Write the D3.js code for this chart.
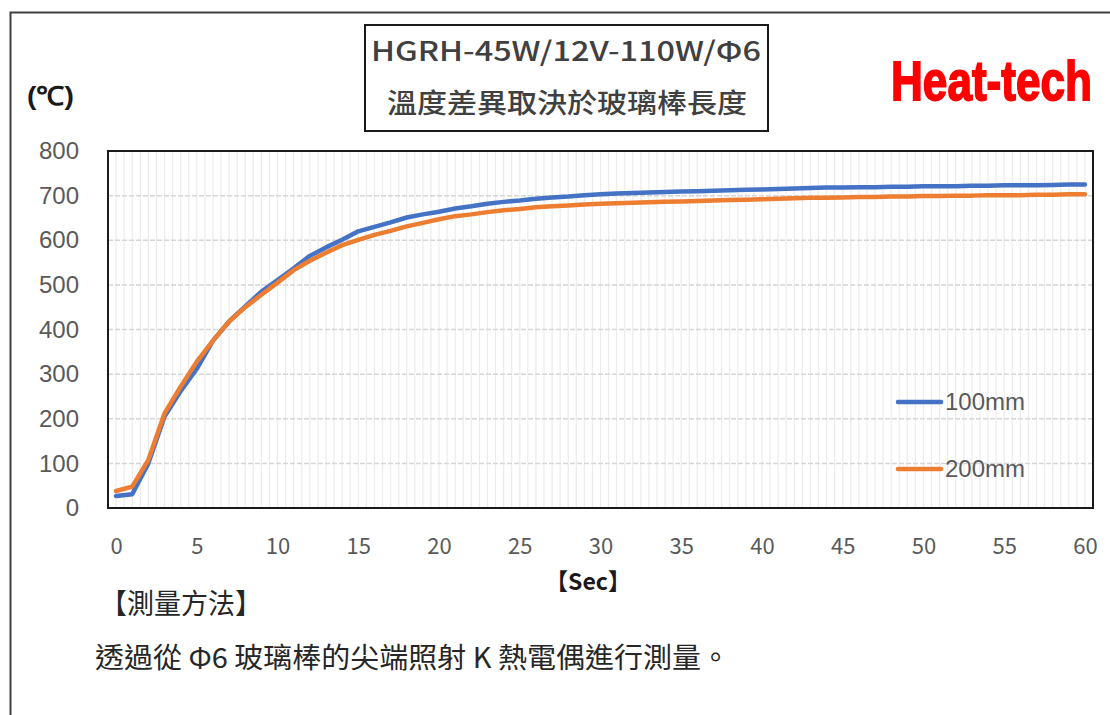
<!DOCTYPE html>
<html>
<head>
<meta charset="utf-8">
<script src="https://cdn.jsdelivr.net/npm/d3@7"></script>
<style>
  html, body { margin: 0; padding: 0; background: #fff; }
  svg { display: block; }
</style>
</head>
<body>
<svg id="chart" width="1110" height="715"></svg>
<script>
const seconds = d3.range(0, 61);
const series100 = [27, 31, 100, 205, 262, 312, 375, 418, 452, 485,
  511, 537, 565, 584, 601, 620, 630, 640, 651, 658,
  664, 671, 676, 682, 686, 689, 693, 696, 698, 701,
  703, 705, 706, 707, 708, 709, 710, 711, 712, 713,
  714, 715, 716, 717, 718, 718, 719, 719, 720, 720,
  721, 721, 721, 722, 722, 723, 723, 723, 724, 725, 725];
const series200 = [38, 48, 108, 212, 272, 328, 375, 418, 450, 478,
  505, 533, 554, 572, 589, 601, 612, 621, 631, 639,
  647, 654, 658, 663, 667, 670, 674, 676, 678, 680,
  682, 683, 684, 685, 686, 687, 688, 689, 690, 691,
  692, 693, 694, 695, 695, 696, 697, 697, 698, 698,
  699, 699, 700, 700, 701, 701, 701, 702, 702, 703, 703];
const seriesNames = ["100mm", "200mm"];
const seriesColors = ["#4472C4", "#ED7D31"];
const xTicks = [0, 5, 10, 15, 20, 25, 30, 35, 40, 45, 50, 55, 60];
const yTicks = [0, 100, 200, 300, 400, 500, 600, 700, 800];
const titleLines = ["HGRH-45W/12V-110W/Φ6", "溫度差異取決於玻璃棒長度"];
const yUnit = "(℃)";
const xUnit = "【Sec】";
const brand = "Heat-tech";
const noteHead = "【測量方法】";
const noteBody = "透過從 Φ6 玻璃棒的尖端照射 K 熱電偶進行測量。";

const svg = d3.select("#chart");
const cjk = "'Noto Sans CJK TC', 'Noto Sans', sans-serif";
const sans = "'Liberation Sans', Arial, sans-serif";

// outer frame
svg.append("rect").attr("x", 10.5).attr("y", 12.5).attr("width", 1200).attr("height", 800)
  .attr("fill", "none").attr("stroke", "#404040").attr("stroke-width", 2);

const L = 108, R = 1093, T = 151, B = 508;
const x = d3.scaleLinear().domain([-0.5, 60.5]).range([L, R]);
const y = d3.scaleLinear().domain([0, 800]).range([B, T]);

// vertical light gridlines every half second
const vGrid = d3.range(-0.5, 60.51, 0.5);
svg.append("g").selectAll("line").data(vGrid).join("line")
  .attr("x1", d => x(d)).attr("x2", d => x(d))
  .attr("y1", T).attr("y2", B)
  .attr("stroke", "#ececec").attr("stroke-width", 1.2);

// horizontal dashed gridlines
svg.append("g").selectAll("line").data(yTicks.filter(d => d > 0 && d < 800)).join("line")
  .attr("x1", L).attr("x2", R)
  .attr("y1", d => y(d)).attr("y2", d => y(d))
  .attr("stroke", "#d6d6d6").attr("stroke-width", 1.5)
  .attr("stroke-dasharray", "5,2");

// plot border
svg.append("rect").attr("x", L).attr("y", T).attr("width", R - L).attr("height", B - T)
  .attr("fill", "none").attr("stroke", "#1a1a1a").attr("stroke-width", 2);

// axes
const yAxis = svg.append("g").attr("transform", `translate(${L},0)`)
  .call(d3.axisLeft(y).tickValues(yTicks).tickSize(0).tickPadding(29));
yAxis.select(".domain").remove();
yAxis.selectAll("text").attr("font-family", sans).attr("font-size", 24).attr("fill", "#595959");

const xAxis = svg.append("g").attr("transform", `translate(0,${B})`)
  .call(d3.axisBottom(x).tickValues(xTicks).tickSize(0).tickPadding(30));
xAxis.select(".domain").remove();
xAxis.selectAll("text").attr("font-family", cjk).attr("font-size", 22).attr("fill", "#595959");

// lines
const line = d3.line().x((d, i) => x(seconds[i])).y(d => y(d));
[series100, series200].forEach((s, k) => {
  svg.append("path").datum(s)
    .attr("d", line)
    .attr("fill", "none")
    .attr("stroke", seriesColors[k])
    .attr("stroke-width", 4.5)
    .attr("stroke-linejoin", "round")
    .attr("stroke-linecap", "round");
});

// legend
const legendY = [402, 469];
seriesNames.forEach((name, k) => {
  svg.append("line").attr("x1", 898).attr("x2", 941)
    .attr("y1", legendY[k]).attr("y2", legendY[k])
    .attr("stroke", seriesColors[k]).attr("stroke-width", 4.5).attr("stroke-linecap", "round");
  svg.append("text").attr("x", 945).attr("y", legendY[k]).attr("dy", "0.35em")
    .attr("font-family", sans).attr("font-size", 24).attr("fill", "#595959").text(name);
});

// title box
svg.append("rect").attr("x", 365).attr("y", 25).attr("width", 403).attr("height", 106)
  .attr("fill", "#fff").attr("stroke", "#1a1a1a").attr("stroke-width", 2);
svg.append("text").attr("x", 566).attr("y", 61).attr("text-anchor", "middle")
  .attr("font-family", cjk).attr("font-size", 27).attr("font-weight", 500).attr("fill", "#404040")
  .attr("textLength", 390).attr("lengthAdjust", "spacingAndGlyphs").text(titleLines[0]);
svg.append("text").attr("x", 567).attr("y", 113).attr("text-anchor", "middle")
  .attr("font-family", cjk).attr("font-size", 27).attr("font-weight", 500).attr("fill", "#404040")
  .attr("textLength", 360).attr("lengthAdjust", "spacingAndGlyphs").text(titleLines[1]);

// y unit
svg.append("text").attr("x", 27).attr("y", 105)
  .attr("font-family", sans).attr("font-size", 26).attr("font-weight", "bold").attr("fill", "#1a1a1a")
  .attr("textLength", 47).attr("lengthAdjust", "spacingAndGlyphs")
  .text(yUnit);

// brand (condensed look via vertical stretch)
svg.append("g").attr("transform", "translate(891,100) scale(1,1.27)")
  .append("text").attr("x", 0).attr("y", 0)
  .attr("font-family", "'Liberation Sans', Arial, sans-serif")
  .attr("font-size", 44).attr("font-weight", "bold").attr("fill", "#ff0000")
  .attr("stroke", "#ff0000").attr("stroke-width", 1.4)
  .attr("textLength", 201).attr("lengthAdjust", "spacingAndGlyphs").text(brand);

// x unit
svg.append("text").attr("x", 588).attr("y", 590).attr("text-anchor", "middle")
  .attr("font-family", cjk).attr("font-size", 23).attr("font-weight", "bold").attr("fill", "#1a1a1a")
  .text(xUnit);

// notes
svg.append("text").attr("x", 100).attr("y", 614)
  .attr("font-family", cjk).attr("font-size", 28).attr("fill", "#262626")
  .attr("textLength", 162).attr("lengthAdjust", "spacingAndGlyphs")
  .text(noteHead);
svg.append("text").attr("x", 95).attr("y", 668)
  .attr("font-family", cjk).attr("font-size", 28).attr("fill", "#262626")
  .attr("textLength", 635).attr("lengthAdjust", "spacingAndGlyphs")
  .text(noteBody);
</script>
</body>
</html>
